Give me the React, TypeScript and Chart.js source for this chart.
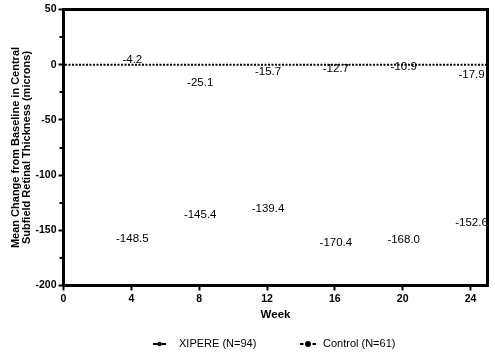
import React, { useEffect, useRef } from 'react';
import { Chart, registerables } from 'chart.js';

Chart.register(...registerables);

const weeks = [4, 8, 12, 16, 20, 24];
const xipereValues = [-148.5, -145.4, -139.4, -170.4, -168.0, -152.6];
const controlValues = [-4.2, -25.1, -15.7, -12.7, -10.9, -17.9];
const xipereLabelSide = ['below', 'above', 'above', 'above', 'above', 'above'];
const controlLabelSide = ['above', 'above', 'above', 'above', 'above', 'above'];
const seriesNames = ['XIPERE (N=94)', 'Control (N=61)'];
const xTicks = [0, 4, 8, 12, 16, 20, 24];
const yTicks = [-200, -150, -100, -50, 0, 50];
const yMinorTicks = [-175, -125, -75, -25, 25];
const yTitle = ['Mean Change from Baseline in Central', 'Subfield Retinal Thickness (microns)'];
const xTitle = 'Week';

const FONT = '"Liberation Sans", Arial, Helvetica, sans-serif';

const overlayPlugin = {
  id: 'overlay',
  afterDatasetsDraw(chart: any) {
    const { ctx, chartArea, scales } = chart;
    const { left, right, top, bottom } = chartArea;
    const y = scales.y;
    ctx.save();
    ctx.strokeStyle = '#000';
    // zero reference line (dotted)
    const y0 = y.getPixelForValue(0);
    ctx.setLineDash([2, 1.5]);
    ctx.lineWidth = 2;
    ctx.beginPath();
    ctx.moveTo(left + 1.5, y0);
    ctx.lineTo(right - 1.5, y0);
    ctx.stroke();
    ctx.setLineDash([]);
    // frame top/right
    ctx.lineWidth = 3;
    ctx.beginPath();
    ctx.moveTo(left - 1.5, top);
    ctx.lineTo(right, top);
    ctx.lineTo(right, bottom + 1.5);
    ctx.stroke();
    // minor y ticks
    ctx.lineWidth = 2;
    yMinorTicks.forEach((v) => {
      const py = Math.round(y.getPixelForValue(v));
      ctx.beginPath();
      ctx.moveTo(left - 4, py);
      ctx.lineTo(left, py);
      ctx.stroke();
    });
    // data labels
    ctx.font = `11.5px ${FONT}`;
    ctx.fillStyle = '#000';
    ctx.textAlign = 'center';
    ctx.textBaseline = 'middle';
    chart.data.datasets.forEach((ds: any, di: number) => {
      const meta = chart.getDatasetMeta(di);
      const sides = di === 0 ? xipereLabelSide : controlLabelSide;
      meta.data.forEach((pt: any, i: number) => {
        const val = ds.data[i].y;
        const dy = sides[i] === 'below' ? 10 : -10;
        ctx.fillText(val.toFixed(1), pt.x + 1, pt.y + dy);
      });
    });
    // legend
    const cx = (left + right) / 2;
    const ly = 344;
    ctx.font = `11px ${FONT}`;
    ctx.textAlign = 'left';
    // XIPERE marker: solid line + small dot
    ctx.lineWidth = 2;
    ctx.beginPath();
    ctx.moveTo(cx - 122.5, ly);
    ctx.lineTo(cx - 109.5, ly);
    ctx.stroke();
    ctx.beginPath();
    ctx.arc(cx - 116, ly, 2.2, 0, Math.PI * 2);
    ctx.fill();
    ctx.fillText(seriesNames[0], cx - 96.5, ly);
    // Control marker: dashed + larger dot
    ctx.beginPath();
    ctx.moveTo(cx + 24.5, ly);
    ctx.lineTo(cx + 28, ly);
    ctx.moveTo(cx + 37, ly);
    ctx.lineTo(cx + 40.5, ly);
    ctx.stroke();
    ctx.beginPath();
    ctx.arc(cx + 32.5, ly, 3, 0, Math.PI * 2);
    ctx.fill();
    ctx.fillText(seriesNames[1], cx + 47.5, ly);
    ctx.restore();
  },
};

export default function App() {
  const ref = useRef<HTMLCanvasElement | null>(null);
  useEffect(() => {
    if (!ref.current) return;
    const tickFont = { family: FONT, size: 10.5, weight: 'bold' as const };
    const chart = new Chart(ref.current, {
      type: 'line',
      data: {
        datasets: [
          {
            label: seriesNames[0],
            data: weeks.map((w, i) => ({ x: w, y: xipereValues[i] })),
            showLine: false,
            pointRadius: 0,
            borderColor: '#000',
            backgroundColor: '#000',
          },
          {
            label: seriesNames[1],
            data: weeks.map((w, i) => ({ x: w, y: controlValues[i] })),
            showLine: false,
            pointRadius: 0,
            borderColor: '#000',
            backgroundColor: '#000',
            borderDash: [4, 4],
          },
        ],
      },
      options: {
        responsive: false,
        animation: false,
        layout: { padding: { left: 0, top: 9.5, right: 7.5, bottom: 33.5 } },
        plugins: {
          legend: { display: false },
          tooltip: { enabled: false },
        },
        scales: {
          x: {
            type: 'linear',
            min: 0,
            max: 25,
            afterBuildTicks: (s: any) => {
              s.ticks = xTicks.map((v) => ({ value: v }));
            },
            afterFit: (s: any) => {
              s.height = 36;
            },
            ticks: { color: '#000', font: tickFont, padding: 2, autoSkip: false, maxRotation: 0 },
            grid: {
              display: true,
              drawOnChartArea: false,
              drawTicks: true,
              tickLength: 5,
              tickWidth: 2,
              tickColor: '#000',
            },
            border: { display: true, width: 3, color: '#000' },
            title: {
              display: true,
              text: xTitle,
              color: '#000',
              font: { family: FONT, size: 11.5, weight: 'bold', lineHeight: 1.2 },
              padding: { top: 0, bottom: 0 },
            },
          },
          y: {
            type: 'linear',
            min: -200,
            max: 50,
            afterBuildTicks: (s: any) => {
              s.ticks = yTicks.map((v) => ({ value: v }));
            },
            afterFit: (s: any) => {
              s.width = 63.5;
            },
            ticks: { color: '#000', font: tickFont, padding: 2, autoSkip: false },
            grid: {
              display: true,
              drawOnChartArea: false,
              drawTicks: true,
              tickLength: 5,
              tickWidth: 2,
              tickColor: '#000',
            },
            border: { display: true, width: 3, color: '#000' },
            title: {
              display: true,
              text: yTitle,
              color: '#000',
              font: { family: FONT, size: 11, weight: 'bold', lineHeight: 1 },
              padding: { top: 10.5, bottom: 0 },
            },
          },
        },
      },
      plugins: [overlayPlugin],
    });
    return () => chart.destroy();
  }, []);
  return (
    <div style={{ position: 'fixed', left: 0, top: 0, width: 495, height: 355, background: '#fff' }}>
      <canvas ref={ref} width={495} height={355} style={{ display: 'block' }} />
    </div>
  );
}
